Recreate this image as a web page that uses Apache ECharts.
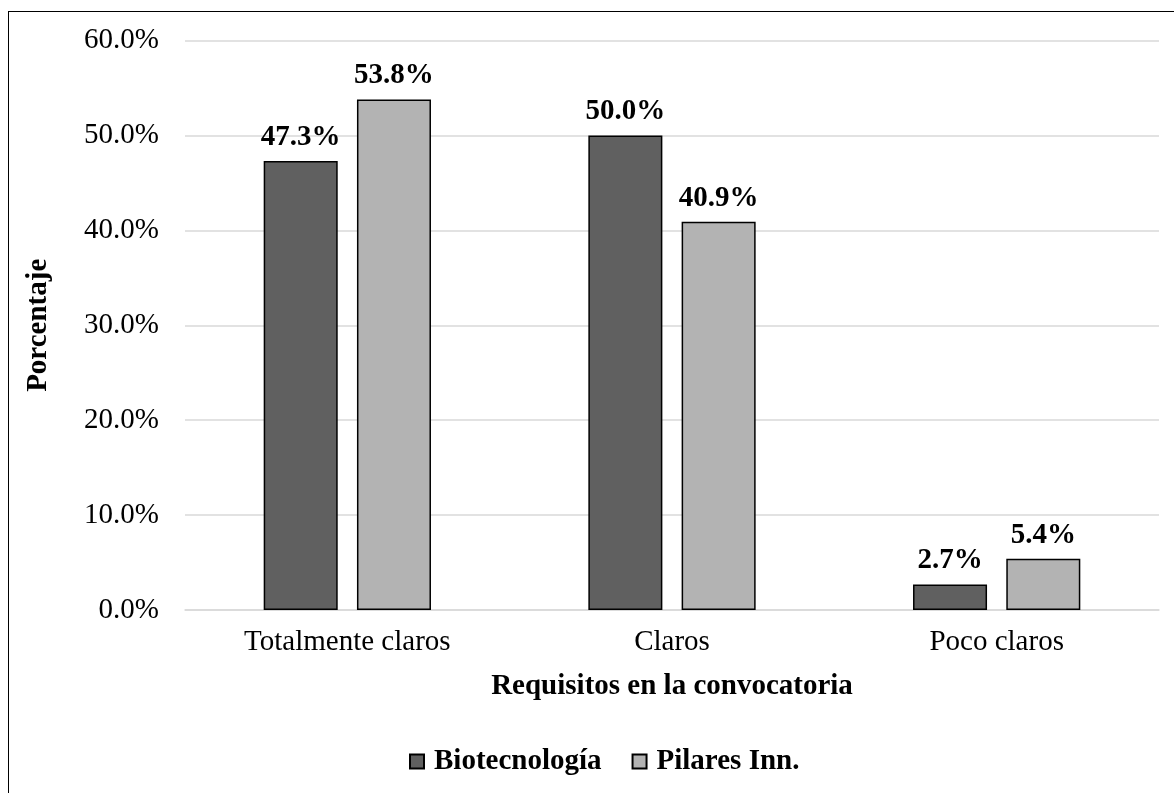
<!DOCTYPE html>
<html>
<head>
<meta charset="utf-8">
<script src="https://cdn.jsdelivr.net/npm/echarts@6/dist/echarts.min.js"></script>
<style>
  html, body { margin: 0; padding: 0; background: #fff; overflow: hidden; }
  #chart { width: 1174px; height: 793px; }
  /* marco exterior del gráfico (solo se ven los bordes izquierdo y superior) */
  .frame {
    position: absolute; left: 8px; top: 11px; width: 1200px; height: 900px;
    border: 1.5px solid #000; pointer-events: none;
  }
</style>
</head>
<body>
<div id="chart"></div>
<div class="frame"></div>
<script>
// datos
const categories = ['Totalmente claros', 'Claros', 'Poco claros']
const seriesNames = ['Biotecnología', 'Pilares Inn.']
const biotecnologia = [0.473, 0.500, 0.027]
const pilaresInn = [0.538, 0.409, 0.054]
const yTicks = { min: 0, max: 0.6, interval: 0.1 }

const FONT = '"Liberation Serif", "Times New Roman", serif'
const FS = 29
const COLOR_DARK  = '#606060'
const COLOR_LIGHT = '#b3b3b3'
const GRID_GRAY   = '#d9d9d9'

const pct = v => (v * 100).toFixed(1) + '%'

function barSeries(name, data, color) {
  return {
    name,
    type: 'bar',
    data,
    barWidth: '22.8%',
    barGap: '26%',
    itemStyle: { color, borderColor: '#000', borderWidth: 1.5 },
    label: {
      show: true,
      position: 'top',
      distance: 9,
      formatter: p => pct(p.value),
      fontFamily: FONT,
      fontSize: FS,
      fontWeight: 'bold',
      color: '#000',
    },
  }
}

const chart = echarts.init(document.getElementById('chart'), null, { renderer: 'canvas' })

chart.setOption({
  animation: false,
  backgroundColor: '#fff',
  textStyle: { fontFamily: FONT },
  grid: { left: 185, right: 15, top: 40.6, bottom: 183, outerBoundsMode: 'none' },
  legend: {
    bottom: 12,
    left: 404,
    icon: 'rect',
    itemWidth: 14,
    itemHeight: 14,
    itemGap: 30,
    textStyle: { fontFamily: FONT, fontSize: FS, fontWeight: 'bold', color: '#000', padding: [0, 0, 0, 5] },
    data: seriesNames,
  },
  xAxis: {
    type: 'category',
    data: categories,
    name: 'Requisitos en la convocatoria',
    nameLocation: 'middle',
    nameGap: 62,
    nameTextStyle: { fontFamily: FONT, fontSize: FS, fontWeight: 'bold', color: '#000' },
    axisLine: { lineStyle: { color: GRID_GRAY, width: 1.5 } },
    axisTick: { show: false },
    axisLabel: { fontFamily: FONT, fontSize: FS, color: '#000', margin: 18 },
  },
  yAxis: {
    type: 'value',
    min: yTicks.min,
    max: yTicks.max,
    interval: yTicks.interval,
    name: 'Porcentaje',
    nameLocation: 'middle',
    nameGap: 132,
    nameTextStyle: { fontFamily: FONT, fontSize: FS, fontWeight: 'bold', color: '#000' },
    axisLine: { show: false },
    axisTick: { show: false },
    splitLine: { lineStyle: { color: GRID_GRAY, width: 1.5 } },
    axisLabel: { fontFamily: FONT, fontSize: FS, color: '#000', margin: 26, formatter: pct },
  },
  series: [
    barSeries(seriesNames[0], biotecnologia, COLOR_DARK),
    barSeries(seriesNames[1], pilaresInn, COLOR_LIGHT),
  ],
})
</script>
</body>
</html>
